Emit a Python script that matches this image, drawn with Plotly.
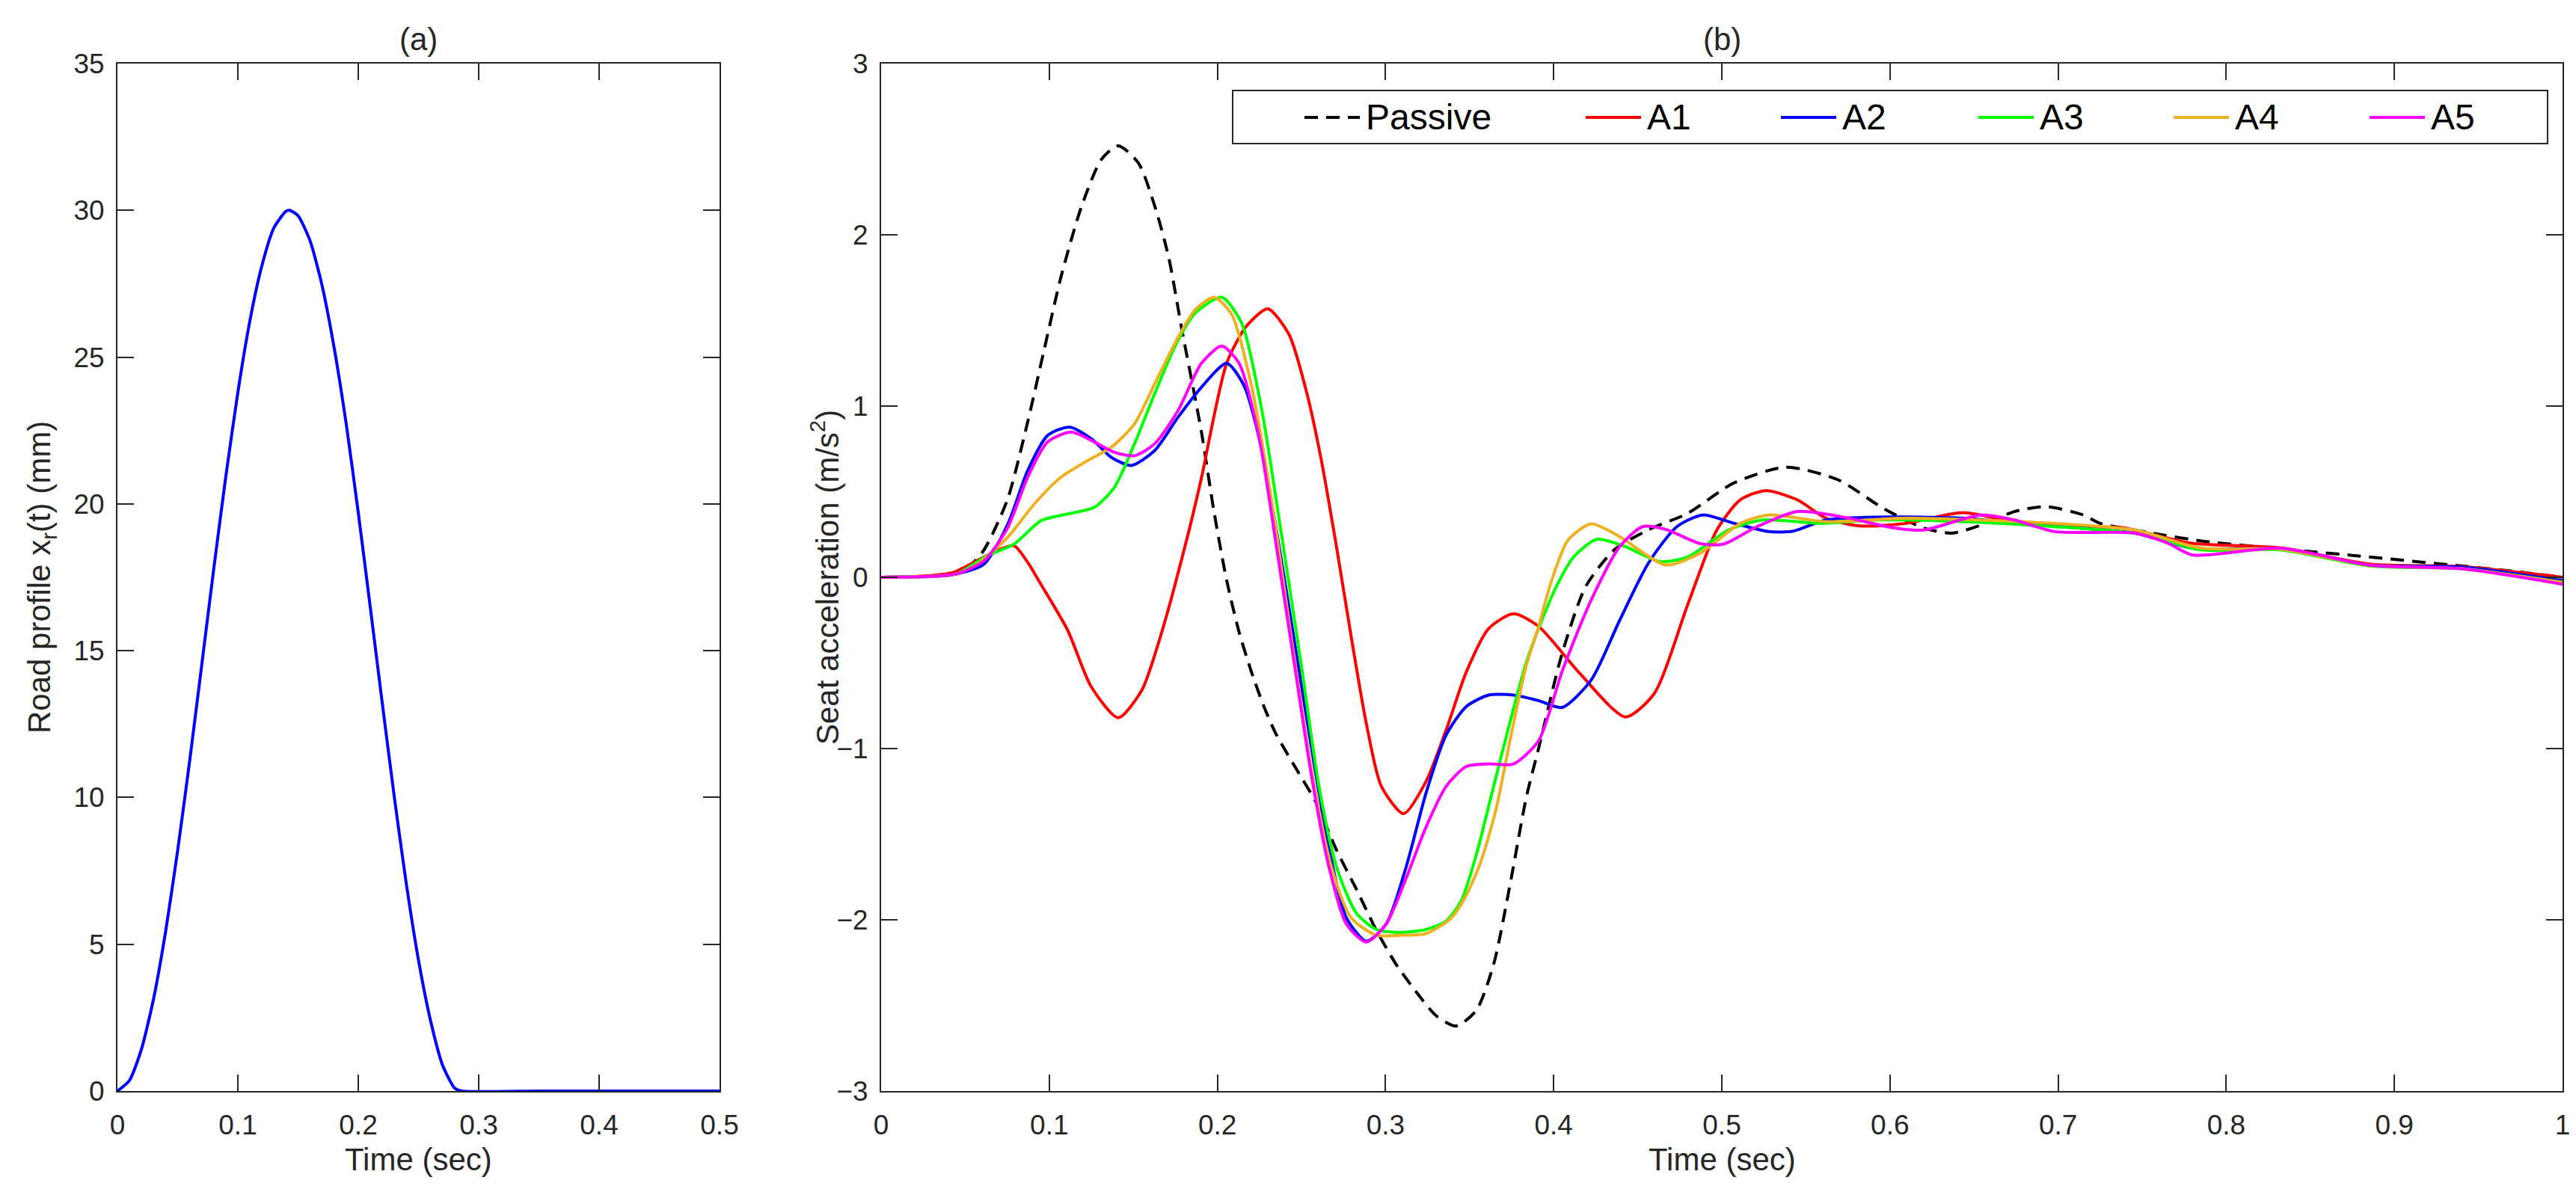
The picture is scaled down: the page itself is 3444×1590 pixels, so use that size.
import plotly.graph_objects as go

# ============================
# 1. Data
# ============================
# (a) road profile
t_road = [0, 0.01, 0.02, 0.03, 0.04, 0.05, 0.06, 0.07, 0.08, 0.09, 0.10, 0.11, 0.12,
          0.13, 0.14, 0.143, 0.15, 0.16, 0.17, 0.18, 0.19, 0.20, 0.21, 0.22, 0.23,
          0.24, 0.25, 0.26, 0.27, 0.28, 0.286, 0.35, 0.40, 0.45, 0.50]
xr_road = [0, 0.36, 1.43, 3.14, 5.43, 8.19, 11.25, 14.51, 17.79, 20.93, 23.80, 26.24, 28.12,
           29.41, 29.97, 30.0, 29.82, 28.96, 27.43, 25.31, 22.72, 19.70, 16.47, 13.19, 9.99,
           7.03, 4.46, 2.40, 0.88, 0.10, 0, 0, 0, 0, 0]

# (b) seat acceleration
series_names = ['Passive', 'A1', 'A2', 'A3', 'A4', 'A5']

t_passive = [0, 0.03, 0.045, 0.051, 0.061, 0.075, 0.087, 0.097, 0.107, 0.119, 0.131, 0.141,
             0.153, 0.163, 0.171, 0.179, 0.1905, 0.198, 0.2055, 0.2129, 0.2203, 0.2277,
             0.2351, 0.247, 0.2589, 0.2707, 0.2826, 0.2945, 0.3063, 0.3182, 0.3301, 0.342,
             0.3539, 0.3643, 0.3747, 0.3836, 0.391, 0.405, 0.419, 0.436, 0.456, 0.480,
             0.507, 0.538, 0.569, 0.596, 0.620, 0.637, 0.657, 0.674, 0.693, 0.715, 0.725,
             0.755, 0.787, 0.875, 0.966, 1.0]
acc_passive = [0, 0.005, 0.02, 0.05, 0.157, 0.45, 0.90, 1.33, 1.755, 2.16, 2.44, 2.52,
               2.42, 2.16, 1.87, 1.44, 0.85, 0.382, -0.017, -0.32, -0.554, -0.755,
               -0.92, -1.12, -1.32, -1.59, -1.82, -2.06, -2.26, -2.42, -2.56, -2.62,
               -2.53, -2.26, -1.76, -1.29, -1.0, -0.445, -0.055, 0.16, 0.276, 0.375,
               0.55, 0.643, 0.57, 0.403, 0.288, 0.258, 0.315, 0.384, 0.413, 0.364, 0.315,
               0.26, 0.21, 0.128, 0.04, 0.0]

t_a1 = [0, 0.03, 0.0435, 0.057, 0.07, 0.079, 0.087, 0.095, 0.111, 0.125, 0.141, 0.155,
        0.1666, 0.1826, 0.1905, 0.2055, 0.2174, 0.2300, 0.2426, 0.2530, 0.2619, 0.2708,
        0.2797, 0.2886, 0.2975, 0.3108, 0.3242, 0.3361, 0.348, 0.3613, 0.3761, 0.391,
        0.4154, 0.4427, 0.4597, 0.480, 0.497, 0.511, 0.526, 0.545, 0.562, 0.582, 0.6095,
        0.6435, 0.6776, 0.7117, 0.738, 0.7786, 0.832, 0.886, 0.939, 1.0]
acc_a1 = [0, 0.01, 0.03, 0.097, 0.16, 0.185, 0.09, -0.04, -0.31, -0.64, -0.82, -0.66,
          -0.33, 0.253, 0.58, 1.25, 1.468, 1.568, 1.418, 1.083, 0.68, 0.18,
          -0.354, -0.855, -1.22, -1.38, -1.19, -0.89, -0.554, -0.30, -0.213, -0.286,
          -0.56, -0.815, -0.68, -0.152, 0.276, 0.452, 0.506, 0.452, 0.345, 0.30, 0.315,
          0.378, 0.315, 0.296, 0.29, 0.20, 0.172, 0.077, 0.063, 0.0]

t_a2 = [0, 0.03, 0.045, 0.0613, 0.0753, 0.0872, 0.099, 0.112, 0.125, 0.137, 0.1488, 0.1627,
        0.1766, 0.1905, 0.2055, 0.2159, 0.2263, 0.2367, 0.2471, 0.2575, 0.2679, 0.2768,
        0.2886, 0.3004, 0.3123, 0.3242, 0.3361, 0.348, 0.3613, 0.3761, 0.391, 0.405,
        0.4223, 0.4393, 0.4563, 0.4733, 0.4887, 0.5074, 0.5278, 0.5425, 0.5619, 0.5925,
        0.6435, 0.6947, 0.7457, 0.78, 0.832, 0.886, 0.94, 1.0]
acc_a2 = [0, 0.005, 0.02, 0.078, 0.31, 0.624, 0.828, 0.877, 0.809, 0.70, 0.653, 0.74,
          0.935, 1.11, 1.25, 1.118, 0.75, 0.18, -0.454, -1.089, -1.657, -1.99,
          -2.125, -2.025, -1.69, -1.256, -0.92, -0.755, -0.688, -0.688, -0.72, -0.76,
          -0.60, -0.25, 0.082, 0.296, 0.364, 0.315, 0.267, 0.27, 0.335, 0.352,
          0.345, 0.30, 0.258, 0.17, 0.165, 0.07, 0.06, -0.02]

t_a3 = [0, 0.03, 0.045, 0.062, 0.0792, 0.0951, 0.111, 0.1269, 0.1388, 0.1507, 0.1627,
        0.1746, 0.1865, 0.2026, 0.2144, 0.2263, 0.2381, 0.25, 0.2604, 0.2708, 0.2826,
        0.2945, 0.3093, 0.3242, 0.3361, 0.345, 0.3539, 0.3643, 0.3747, 0.3836, 0.391,
        0.4018, 0.412, 0.4257, 0.4427, 0.4631, 0.480, 0.504, 0.5244, 0.5585, 0.5925,
        0.6435, 0.7117, 0.75, 0.785, 0.832, 0.886, 0.94, 1.0]
acc_a3 = [0, 0.005, 0.02, 0.12, 0.195, 0.331, 0.37, 0.409, 0.526, 0.78, 1.072,
          1.345, 1.54, 1.635, 1.485, 0.983, 0.25, -0.52, -1.22, -1.69, -1.96,
          -2.056, -2.074, -2.056, -2.007, -1.89, -1.623, -1.22, -0.82, -0.50, -0.30,
          -0.05, 0.12, 0.222, 0.179, 0.092, 0.12, 0.276, 0.335, 0.315, 0.335,
          0.325, 0.288, 0.25, 0.16, 0.16, 0.065, 0.05, -0.03]

t_a4 = [0, 0.03, 0.045, 0.0574, 0.0753, 0.0911, 0.107, 0.1229, 0.137, 0.1507, 0.1627,
        0.1746, 0.1865, 0.198, 0.2085, 0.2203, 0.2322, 0.244, 0.2559, 0.2678, 0.2797,
        0.2945, 0.3093, 0.3242, 0.339, 0.348, 0.3568, 0.3657, 0.3747, 0.3836, 0.391,
        0.3984, 0.4086, 0.4223, 0.4393, 0.4666, 0.487, 0.511, 0.5278, 0.5619, 0.6095,
        0.6776, 0.7457, 0.785, 0.832, 0.886, 0.94, 1.0]
acc_a4 = [0, 0.005, 0.02, 0.078, 0.234, 0.428, 0.585, 0.682, 0.76, 0.896, 1.13,
          1.364, 1.56, 1.635, 1.535, 1.118, 0.45, -0.354, -1.122, -1.69, -1.99,
          -2.09, -2.09, -2.08, -1.99, -1.857, -1.657, -1.356, -0.92, -0.52, -0.29,
          -0.03, 0.218, 0.312, 0.237, 0.072, 0.14, 0.315, 0.364, 0.325, 0.345,
          0.325, 0.276, 0.17, 0.165, 0.07, 0.05, -0.03]

t_a5 = [0, 0.03, 0.045, 0.0613, 0.0753, 0.0872, 0.099, 0.113, 0.1269, 0.1388, 0.1507,
        0.1627, 0.1766, 0.1905, 0.2026, 0.2129, 0.2248, 0.2351, 0.2455, 0.2559, 0.2663,
        0.2767, 0.2886, 0.3004, 0.3123, 0.3242, 0.3361, 0.348, 0.3613, 0.3761, 0.391,
        0.4053, 0.4223, 0.4393, 0.4529, 0.4666, 0.487, 0.5006, 0.521, 0.5449, 0.5721,
        0.6027, 0.62, 0.6538, 0.6738, 0.698, 0.7457, 0.765, 0.78, 0.832, 0.886, 0.94, 1.0]
acc_a5 = [0, 0.005, 0.02, 0.097, 0.29, 0.585, 0.79, 0.848, 0.79, 0.73, 0.71,
          0.78, 0.974, 1.25, 1.35, 1.25, 0.816, 0.18, -0.487, -1.155, -1.69,
          -2.025, -2.13, -2.025, -1.756, -1.456, -1.22, -1.105, -1.09, -1.09, -0.955,
          -0.542, -0.133, 0.179, 0.296, 0.28, 0.197, 0.193, 0.296, 0.384, 0.352,
          0.288, 0.276, 0.364, 0.335, 0.267, 0.258, 0.2, 0.13, 0.17, 0.07, 0.05, -0.04]

# ============================
# 2. Styles and geometry (pixels of a 3444 x 1590 page)
# ============================
W, H = 3444, 1590
colors = ['black', '#FF0000', '#0000FF', '#00FF00', '#EDB120', '#FF00FF']
dashes = ['18px,11px', 'solid', 'solid', 'solid', 'solid', 'solid']
FONT = 'Liberation Sans, Arial, Helvetica, sans-serif'
AX = '#262626'


def px(x):
    return x / W


def py(y):
    return 1 - y / H


fig = go.Figure()

fig.add_trace(go.Scatter(x=t_road, y=xr_road, mode='lines', name='x_r',
                         line=dict(color='#0000FF', width=4, shape='spline', smoothing=0.6),
                         xaxis='x', yaxis='y', showlegend=False))

t_all = [t_passive, t_a1, t_a2, t_a3, t_a4, t_a5]
acc_all = [acc_passive, acc_a1, acc_a2, acc_a3, acc_a4, acc_a5]
for name, tt, aa, c, d in zip(series_names, t_all, acc_all, colors, dashes):
    fig.add_trace(go.Scatter(x=tt, y=aa, mode='lines', name=name,
                             line=dict(color=c, width=4, dash=d, shape='spline', smoothing=0.7),
                             xaxis='x2', yaxis='y2', showlegend=False))

axis_style = dict(showline=True, linecolor=AX, linewidth=2, mirror='allticks',
                  ticks='inside', ticklen=22, tickwidth=2, tickcolor=AX,
                  showgrid=False, zeroline=False, automargin=False,
                  tickfont=dict(family=FONT, size=37, color=AX))

fig.update_layout(
    width=W, height=H,
    margin=dict(l=0, r=0, t=0, b=0, pad=0, autoexpand=False),
    paper_bgcolor='white', plot_bgcolor='white',
    showlegend=False,
    xaxis=dict(domain=[px(149), px(954)], range=[0, 0.5], anchor='y',
               tickvals=[0, 0.1, 0.2, 0.3, 0.4, 0.5], ticklabelstandoff=12, **axis_style),
    yaxis=dict(domain=[py(1451), py(77)], range=[0, 35], anchor='x',
               tickvals=[0, 5, 10, 15, 20, 25, 30, 35], ticklabelstandoff=8, **axis_style),
    xaxis2=dict(domain=[px(1170), px(3418)], range=[0, 1], anchor='y2',
                tickvals=[0, 0.1, 0.2, 0.3, 0.4, 0.5, 0.6, 0.7, 0.8, 0.9, 1],
                ticktext=['0', '0.1', '0.2', '0.3', '0.4', '0.5', '0.6', '0.7', '0.8', '0.9', '1'],
                ticklabelstandoff=12, **axis_style),
    yaxis2=dict(domain=[py(1451), py(77)], range=[-3, 3], anchor='x2',
                tickvals=[-3, -2, -1, 0, 1, 2, 3], ticklabelstandoff=8, **axis_style),
)

# titles and axis labels
labels = [
    ('(a)', px(551), py(45), 0),
    ('(b)', px(2294), py(45), 0),
    ('Time (sec)', px(551), py(1542), 0),
    ('Time (sec)', px(2294), py(1542), 0),
    ('Road profile x<sub>r</sub>(t) (mm)', px(47), py(764), -90),
    ('Seat acceleration (m/s<sup>2</sup>)', px(1095), py(764), -90),
]
for text, x, y, ang in labels:
    fig.add_annotation(text=text, x=x, y=y, xref='paper', yref='paper',
                       showarrow=False, textangle=ang, xanchor='center', yanchor='middle',
                       font=dict(family=FONT, size=42, color=AX))

# ============================
# 3. Legend box (drawn like the MATLAB one)
# ============================
fig.add_shape(type='rect', xref='paper', yref='paper',
              x0=px(1640), x1=px(3398), y0=py(184), y1=py(113),
              line=dict(color=AX, width=2), fillcolor='white', layer='above')
leg_line_x = [1736, 2112, 2373, 2637, 2898, 3160]
leg_y = py(149)
for name, c, d, x0 in zip(series_names, colors, dashes, leg_line_x):
    fig.add_shape(type='line', xref='paper', yref='paper',
                  x0=px(x0), x1=px(x0 + 74), y0=leg_y, y1=leg_y,
                  line=dict(color=c, width=4, dash=d), layer='above')
    fig.add_annotation(text=name, x=px(x0 + 80), y=leg_y, xref='paper', yref='paper',
                       showarrow=False, xanchor='left', yanchor='middle',
                       font=dict(family=FONT, size=48, color='black'))

fig.write_html('out.html')
